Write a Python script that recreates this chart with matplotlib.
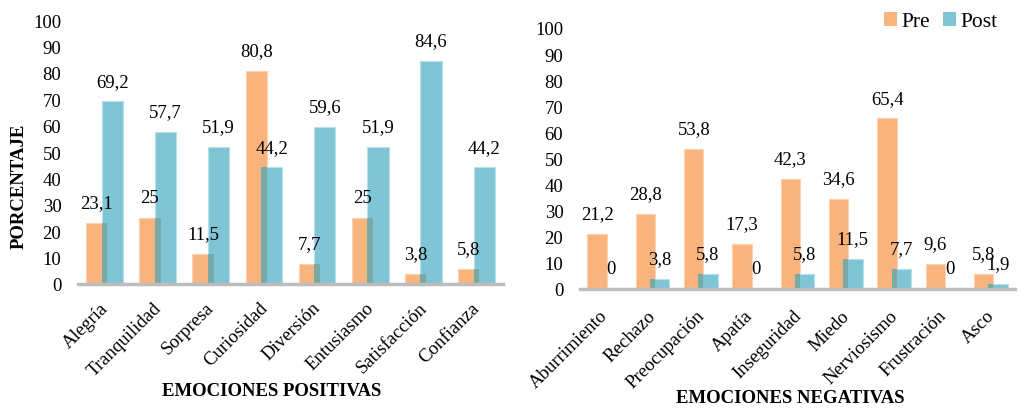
import matplotlib
matplotlib.use("Agg")
import matplotlib.pyplot as plt
import matplotlib.transforms as mtransforms
from matplotlib.patches import Patch
import numpy as np

plt.rcParams['font.family'] = ['Liberation Serif', 'DejaVu Serif']

# Positive emotions (percent)
pos_labels = ["Alegría", "Tranquilidad", "Sorpresa", "Curiosidad", "Diversión",
              "Entusiasmo", "Satisfacción", "Confianza"]
pos_pre = [23.1, 25, 11.5, 80.8, 7.7, 25, 3.8, 5.8]
pos_post = [69.2, 57.7, 51.9, 44.2, 59.6, 51.9, 84.6, 44.2]

# Negative emotions (percent)
neg_labels = ["Aburrimiento", "Rechazo", "Preocupación", "Apatía", "Inseguridad",
              "Miedo", "Nerviosismo", "Frustración", "Asco"]
neg_pre = [21.2, 28.8, 53.8, 17.3, 42.3, 34.6, 65.4, 9.6, 5.8]
neg_post = [0, 3.8, 5.8, 0, 5.8, 11.5, 7.7, 0, 1.9]

yticks = list(range(0, 101, 10))

C_PRE = "#F9B47E"
C_POST = "#7FC5D5"
C_BOTH = "#7AA8A5"
C_AXIS = "#BDBDBD"

BAR_W = 0.4
OFF = 0.145
FS = 13.5


def fmt(v):
    return f"{v:g}".replace(".", ",")


def draw(ax, fig, labels, pre, post, label_drop):
    x = np.arange(len(labels))
    pre = np.asarray(pre, float)
    post = np.asarray(post, float)
    ax.bar(x - OFF, pre, BAR_W, color=C_PRE, edgecolor="#FCD3B2", linewidth=0.8, zorder=2)
    ax.bar(x + OFF, post, BAR_W, color=C_POST, edgecolor="#B6E0EA", linewidth=0.8, zorder=3)
    # region where the two bars overlap
    ov_left = x + OFF - BAR_W / 2
    ov_w = (x - OFF + BAR_W / 2) - ov_left
    ax.bar(ov_left, np.minimum(pre, post), ov_w, align="edge", color=C_BOTH,
           linewidth=0, zorder=4)
    for xs, vals in ((x - OFF, pre), (x + OFF, post)):
        for xi, v in zip(xs, vals):
            ax.annotate(fmt(v), (xi, v), xytext=(0, 14.5), textcoords="offset points",
                        ha="center", va="center", fontsize=FS, zorder=5)
    ax.set_xlim(-0.5, len(labels) - 0.5)
    ax.set_ylim(0, 100)
    ax.set_yticks(yticks)
    ax.set_yticklabels([str(t) for t in yticks], fontsize=FS)
    ax.set_xticks(x)
    ax.set_xticklabels(labels, rotation=45, ha="right", va="baseline",
                       rotation_mode="anchor", fontsize=FS)
    ax.tick_params(axis="y", length=0, pad=12)
    ax.tick_params(axis="x", length=0, pad=0)
    shift = mtransforms.ScaledTranslation(4 / 100, -label_drop / 100, fig.dpi_scale_trans)
    for lab in ax.get_xticklabels():
        lab.set_transform(lab.get_transform() + shift)
    for s in ("top", "right", "left"):
        ax.spines[s].set_visible(False)
    ax.spines["bottom"].set_color(C_AXIS)
    ax.spines["bottom"].set_linewidth(2.5)
    ax.spines["bottom"].set_zorder(6)


W, H = 1033, 410
fig = plt.figure(figsize=(W / 100, H / 100), dpi=100)

ax1 = fig.add_axes([78 / W, 125 / H, 425 / W, 264 / H])
ax2 = fig.add_axes([580 / W, 120 / H, 435 / W, 261 / H])

draw(ax1, fig, pos_labels, pos_pre, pos_post, 24)
draw(ax2, fig, neg_labels, neg_pre, neg_post, 27)

fig.text(19 / W, 1 - 186 / H, "PORCENTAJE", rotation=90, ha="center", va="center",
         fontsize=13.5, fontweight="bold")
fig.text(272 / W, 1 - 392 / H, "EMOCIONES POSITIVAS", ha="center", va="center",
         fontsize=13.5, fontweight="bold")
fig.text(790 / W, 1 - 399 / H, "EMOCIONES NEGATIVAS", ha="center", va="center",
         fontsize=13.5, fontweight="bold")

handles = [Patch(facecolor=C_PRE, label="Pre"), Patch(facecolor=C_POST, label="Post")]
fig.legend(handles=handles, loc="upper right", bbox_to_anchor=(1010 / W, 1 - 0 / H),
           ncol=2, frameon=False, fontsize=15.5, handlelength=0.6, handleheight=0.6,
           handletextpad=0.2, columnspacing=0.6, borderaxespad=0.2)

fig.savefig("out.png", dpi=100)
